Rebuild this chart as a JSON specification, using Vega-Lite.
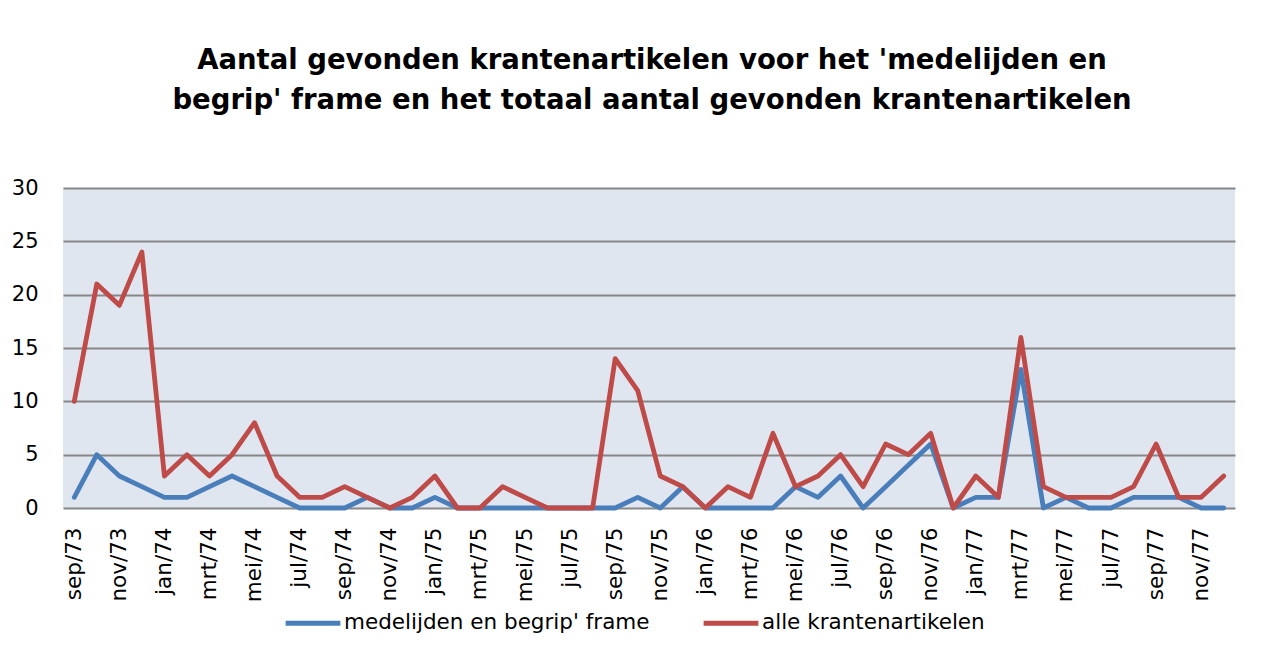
{
  "$schema": "https://vega.github.io/schema/vega-lite/v6.json",
  "width": 1172,
  "height": 320,
  "autosize": {"type": "none"},
  "padding": {"left": 63, "top": 188, "right": 26, "bottom": 149},
  "background": "white",
  "title": {
    "text": ["Aantal gevonden krantenartikelen voor het 'medelijden en", "begrip' frame en het totaal aantal gevonden krantenartikelen"],
    "font": "DejaVu Sans",
    "fontSize": 27.5,
    "fontWeight": "bold",
    "color": "black",
    "lineHeight": 40,
    "anchor": "middle",
    "frame": "group",
    "offset": 63,
    "dx": 3
  },
  "config": {
    "view": {"fill": "#DFE6F0", "stroke": null},
    "font": "DejaVu Sans"
  },
  "datasets": {
    "rows": [
      {"month": "sep/73", "series": "medelijden en begrip' frame", "value": 1},
      {"month": "okt/73", "series": "medelijden en begrip' frame", "value": 5},
      {"month": "nov/73", "series": "medelijden en begrip' frame", "value": 3},
      {"month": "dec/73", "series": "medelijden en begrip' frame", "value": 2},
      {"month": "jan/74", "series": "medelijden en begrip' frame", "value": 1},
      {"month": "feb/74", "series": "medelijden en begrip' frame", "value": 1},
      {"month": "mrt/74", "series": "medelijden en begrip' frame", "value": 2},
      {"month": "apr/74", "series": "medelijden en begrip' frame", "value": 3},
      {"month": "mei/74", "series": "medelijden en begrip' frame", "value": 2},
      {"month": "jun/74", "series": "medelijden en begrip' frame", "value": 1},
      {"month": "jul/74", "series": "medelijden en begrip' frame", "value": 0},
      {"month": "aug/74", "series": "medelijden en begrip' frame", "value": 0},
      {"month": "sep/74", "series": "medelijden en begrip' frame", "value": 0},
      {"month": "okt/74", "series": "medelijden en begrip' frame", "value": 1},
      {"month": "nov/74", "series": "medelijden en begrip' frame", "value": 0},
      {"month": "dec/74", "series": "medelijden en begrip' frame", "value": 0},
      {"month": "jan/75", "series": "medelijden en begrip' frame", "value": 1},
      {"month": "feb/75", "series": "medelijden en begrip' frame", "value": 0},
      {"month": "mrt/75", "series": "medelijden en begrip' frame", "value": 0},
      {"month": "apr/75", "series": "medelijden en begrip' frame", "value": 0},
      {"month": "mei/75", "series": "medelijden en begrip' frame", "value": 0},
      {"month": "jun/75", "series": "medelijden en begrip' frame", "value": 0},
      {"month": "jul/75", "series": "medelijden en begrip' frame", "value": 0},
      {"month": "aug/75", "series": "medelijden en begrip' frame", "value": 0},
      {"month": "sep/75", "series": "medelijden en begrip' frame", "value": 0},
      {"month": "okt/75", "series": "medelijden en begrip' frame", "value": 1},
      {"month": "nov/75", "series": "medelijden en begrip' frame", "value": 0},
      {"month": "dec/75", "series": "medelijden en begrip' frame", "value": 2},
      {"month": "jan/76", "series": "medelijden en begrip' frame", "value": 0},
      {"month": "feb/76", "series": "medelijden en begrip' frame", "value": 0},
      {"month": "mrt/76", "series": "medelijden en begrip' frame", "value": 0},
      {"month": "apr/76", "series": "medelijden en begrip' frame", "value": 0},
      {"month": "mei/76", "series": "medelijden en begrip' frame", "value": 2},
      {"month": "jun/76", "series": "medelijden en begrip' frame", "value": 1},
      {"month": "jul/76", "series": "medelijden en begrip' frame", "value": 3},
      {"month": "aug/76", "series": "medelijden en begrip' frame", "value": 0},
      {"month": "sep/76", "series": "medelijden en begrip' frame", "value": 2},
      {"month": "okt/76", "series": "medelijden en begrip' frame", "value": 4},
      {"month": "nov/76", "series": "medelijden en begrip' frame", "value": 6},
      {"month": "dec/76", "series": "medelijden en begrip' frame", "value": 0},
      {"month": "jan/77", "series": "medelijden en begrip' frame", "value": 1},
      {"month": "feb/77", "series": "medelijden en begrip' frame", "value": 1},
      {"month": "mrt/77", "series": "medelijden en begrip' frame", "value": 13},
      {"month": "apr/77", "series": "medelijden en begrip' frame", "value": 0},
      {"month": "mei/77", "series": "medelijden en begrip' frame", "value": 1},
      {"month": "jun/77", "series": "medelijden en begrip' frame", "value": 0},
      {"month": "jul/77", "series": "medelijden en begrip' frame", "value": 0},
      {"month": "aug/77", "series": "medelijden en begrip' frame", "value": 1},
      {"month": "sep/77", "series": "medelijden en begrip' frame", "value": 1},
      {"month": "okt/77", "series": "medelijden en begrip' frame", "value": 1},
      {"month": "nov/77", "series": "medelijden en begrip' frame", "value": 0},
      {"month": "dec/77", "series": "medelijden en begrip' frame", "value": 0},
      {"month": "sep/73", "series": "alle krantenartikelen", "value": 10},
      {"month": "okt/73", "series": "alle krantenartikelen", "value": 21},
      {"month": "nov/73", "series": "alle krantenartikelen", "value": 19},
      {"month": "dec/73", "series": "alle krantenartikelen", "value": 24},
      {"month": "jan/74", "series": "alle krantenartikelen", "value": 3},
      {"month": "feb/74", "series": "alle krantenartikelen", "value": 5},
      {"month": "mrt/74", "series": "alle krantenartikelen", "value": 3},
      {"month": "apr/74", "series": "alle krantenartikelen", "value": 5},
      {"month": "mei/74", "series": "alle krantenartikelen", "value": 8},
      {"month": "jun/74", "series": "alle krantenartikelen", "value": 3},
      {"month": "jul/74", "series": "alle krantenartikelen", "value": 1},
      {"month": "aug/74", "series": "alle krantenartikelen", "value": 1},
      {"month": "sep/74", "series": "alle krantenartikelen", "value": 2},
      {"month": "okt/74", "series": "alle krantenartikelen", "value": 1},
      {"month": "nov/74", "series": "alle krantenartikelen", "value": 0},
      {"month": "dec/74", "series": "alle krantenartikelen", "value": 1},
      {"month": "jan/75", "series": "alle krantenartikelen", "value": 3},
      {"month": "feb/75", "series": "alle krantenartikelen", "value": 0},
      {"month": "mrt/75", "series": "alle krantenartikelen", "value": 0},
      {"month": "apr/75", "series": "alle krantenartikelen", "value": 2},
      {"month": "mei/75", "series": "alle krantenartikelen", "value": 1},
      {"month": "jun/75", "series": "alle krantenartikelen", "value": 0},
      {"month": "jul/75", "series": "alle krantenartikelen", "value": 0},
      {"month": "aug/75", "series": "alle krantenartikelen", "value": 0},
      {"month": "sep/75", "series": "alle krantenartikelen", "value": 14},
      {"month": "okt/75", "series": "alle krantenartikelen", "value": 11},
      {"month": "nov/75", "series": "alle krantenartikelen", "value": 3},
      {"month": "dec/75", "series": "alle krantenartikelen", "value": 2},
      {"month": "jan/76", "series": "alle krantenartikelen", "value": 0},
      {"month": "feb/76", "series": "alle krantenartikelen", "value": 2},
      {"month": "mrt/76", "series": "alle krantenartikelen", "value": 1},
      {"month": "apr/76", "series": "alle krantenartikelen", "value": 7},
      {"month": "mei/76", "series": "alle krantenartikelen", "value": 2},
      {"month": "jun/76", "series": "alle krantenartikelen", "value": 3},
      {"month": "jul/76", "series": "alle krantenartikelen", "value": 5},
      {"month": "aug/76", "series": "alle krantenartikelen", "value": 2},
      {"month": "sep/76", "series": "alle krantenartikelen", "value": 6},
      {"month": "okt/76", "series": "alle krantenartikelen", "value": 5},
      {"month": "nov/76", "series": "alle krantenartikelen", "value": 7},
      {"month": "dec/76", "series": "alle krantenartikelen", "value": 0},
      {"month": "jan/77", "series": "alle krantenartikelen", "value": 3},
      {"month": "feb/77", "series": "alle krantenartikelen", "value": 1},
      {"month": "mrt/77", "series": "alle krantenartikelen", "value": 16},
      {"month": "apr/77", "series": "alle krantenartikelen", "value": 2},
      {"month": "mei/77", "series": "alle krantenartikelen", "value": 1},
      {"month": "jun/77", "series": "alle krantenartikelen", "value": 1},
      {"month": "jul/77", "series": "alle krantenartikelen", "value": 1},
      {"month": "aug/77", "series": "alle krantenartikelen", "value": 2},
      {"month": "sep/77", "series": "alle krantenartikelen", "value": 6},
      {"month": "okt/77", "series": "alle krantenartikelen", "value": 1},
      {"month": "nov/77", "series": "alle krantenartikelen", "value": 1},
      {"month": "dec/77", "series": "alle krantenartikelen", "value": 3}
    ]
  },
  "data": {"name": "rows"},
  "mark": {"type": "line", "strokeWidth": 4.8, "strokeJoin": "round", "strokeCap": "round"},
  "encoding": {
    "x": {
      "field": "month",
      "type": "ordinal",
      "sort": null,
      "scale": {"padding": 0.5},
      "axis": {
        "title": null,
        "values": ["sep/73", "nov/73", "jan/74", "mrt/74", "mei/74", "jul/74", "sep/74", "nov/74", "jan/75", "mrt/75", "mei/75", "jul/75", "sep/75", "nov/75", "jan/76", "mrt/76", "mei/76", "jul/76", "sep/76", "nov/76", "jan/77", "mrt/77", "mei/77", "jul/77", "sep/77", "nov/77"],
        "labelAngle": -90,
        "labelFontSize": 21.5,
        "labelFont": "DejaVu Sans",
        "labelColor": "black",
        "labelPadding": 19,
        "ticks": false,
        "domain": false,
        "grid": false
      }
    },
    "y": {
      "field": "value",
      "type": "quantitative",
      "scale": {"domain": [0, 30]},
      "axis": {
        "title": null,
        "values": [0, 5, 10, 15, 20, 25, 30],
        "labelFontSize": 21,
        "labelFont": "DejaVu Sans",
        "labelColor": "black",
        "labelPadding": 25,
        "ticks": false,
        "domain": false,
        "grid": true,
        "gridColor": "#878787",
        "gridWidth": 2
      }
    },
    "color": {
      "field": "series",
      "type": "nominal",
      "sort": null,
      "scale": {
        "domain": ["medelijden en begrip' frame", "alle krantenartikelen"],
        "range": ["#4A7EBB", "#BE4B48"]
      },
      "legend": {
        "title": null,
        "orient": "none",
        "legendX": 220,
        "legendY": 405,
        "direction": "horizontal",
        "symbolType": "stroke",
        "symbolSize": 3000,
        "symbolStrokeWidth": 5,
        "labelFontSize": 21.5,
        "labelFont": "DejaVu Sans",
        "labelColor": "black",
        "labelOffset": 1,
        "columnPadding": 43,
        "labelLimit": 500
      }
    }
  }
}
